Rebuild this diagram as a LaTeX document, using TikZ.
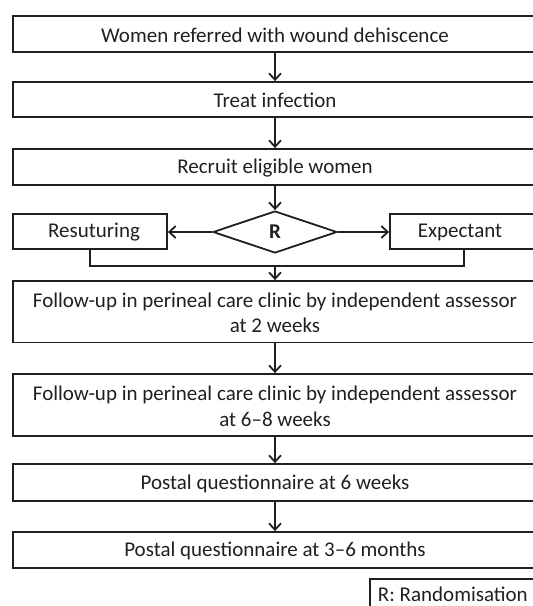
\documentclass[tikz,border=0pt]{standalone}
\usepackage{fontspec}
\setmainfont{Carlito}
\usetikzlibrary{arrows.meta,shapes.geometric}
\definecolor{ink}{HTML}{231F20}
\begin{document}
\begin{tikzpicture}[x=1pt,y=-1pt,
  line width=1.8pt,
  box/.style={draw=ink, rectangle, inner sep=0pt},
  lbl/.style={font=\fontsize{21}{25.5}\selectfont, text=ink, align=center, inner sep=0pt},
  arr/.style={draw=ink, -{Straight Barb[length=6.5pt,width=12pt,line width=1.8pt]}},
  ln/.style={draw=ink}]
\useasboundingbox (0,0) rectangle (533,606);
\clip (0,0) rectangle (533,606);
\fill[white] (0,0) rectangle (533,606);
\coordinate (ax) at (275,0);
% main boxes (extend past the right edge)
\node[box, minimum width=547pt, minimum height=36pt] (b1) at (286.5,34) {};
\node[lbl] (t1) at (275,35) {Women referred with wound dehiscence};
\node[box, minimum width=547pt, minimum height=35pt] (b2) at (286.5,99.5) {};
\node[lbl] (t2) at (275,100.5) {Treat infection};
\node[box, minimum width=547pt, minimum height=36pt] (b3) at (286.5,167) {};
\node[lbl] (t3) at (275,168) {Recruit eligible women};
\node[diamond, draw=ink, minimum width=124pt, minimum height=42pt, aspect=2.95, inner sep=0pt, text=ink, font=\fontsize{21}{25.5}\selectfont\bfseries] (d) at (275,232) {R};
\node[box, minimum width=154pt, minimum height=35pt] (res) at (90,231.5) {};
\node[lbl] (tres) at (94,232.5) {Resuturing};
\node[box, minimum width=148pt, minimum height=35pt] (exp) at (464,231.5) {};
\node[lbl] (texp) at (460,232.5) {Expectant};
\coordinate (j) at (275,266);
\node[box, minimum width=547pt, minimum height=61.5pt] (b4) at (286.5,311.75) {};
\node[lbl] (t4) at (275,313) {Follow-up in perineal care clinic by independent assessor\\at 2 weeks};
\node[box, minimum width=547pt, minimum height=62pt] (b5) at (286.5,405) {};
\node[lbl] (t5) at (275,406.5) {Follow-up in perineal care clinic by independent assessor\\at 6--8 weeks};
\node[box, minimum width=547pt, minimum height=37pt] (b6) at (286.5,482.5) {};
\node[lbl] (t6) at (275,483.5) {Postal questionnaire at 6 weeks};
\node[box, minimum width=547pt, minimum height=36pt] (b7) at (286.5,550) {};
\node[lbl] (t7) at (275,551) {Postal questionnaire at 3--6 months};
\node[box, anchor=north west, minimum width=220pt, minimum height=50pt] (rb) at (369,578) {};
\node[lbl, anchor=west] (rt) at (377,594) {R: Randomisation};
% connectors
\draw[arr] (b1.south -| ax) -- (b2.north -| ax);
\draw[arr] (b2.south -| ax) -- (b3.north -| ax);
\draw[arr] (b3.south -| ax) -- (d.north);
\draw[arr] (d.west) -- (d.west -| res.east);
\draw[arr] (d.east) -- (d.east -| exp.west);
\draw[ln] (res.south) |- (j) -| (exp.south);
\draw[arr] (j) -- (b4.north -| ax);
\draw[arr] (b4.south -| ax) -- (b5.north -| ax);
\draw[arr] (b5.south -| ax) -- (b6.north -| ax);
\draw[arr] (b6.south -| ax) -- (b7.north -| ax);
\end{tikzpicture}
\end{document}
